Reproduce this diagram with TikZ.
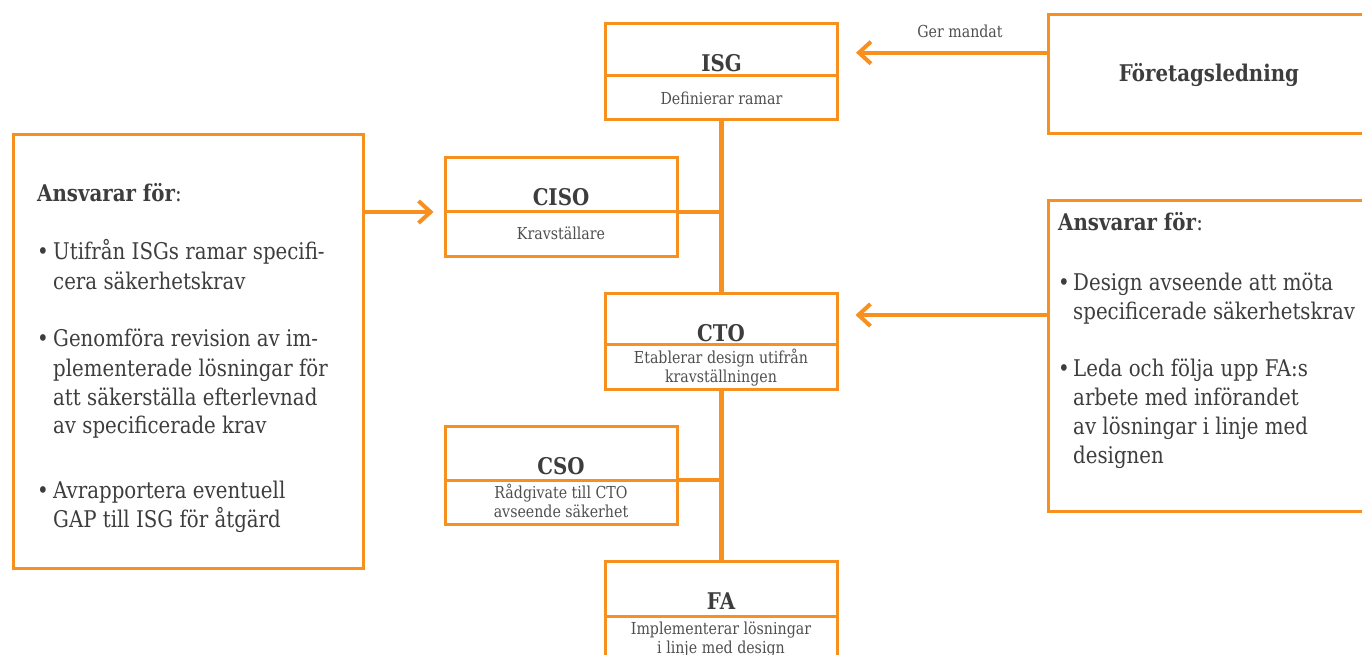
\documentclass[tikz,border=0pt]{standalone}
\usepackage{fontspec}
\setmainfont{DejaVu Serif}[FakeStretch=0.86]
\usetikzlibrary{arrows.meta}
\definecolor{org}{HTML}{F7901E}
\definecolor{txt}{HTML}{3D3D3D}
\definecolor{subtxt}{HTML}{4F4F4F}
\tikzset{
  orgbox/.style={draw=org, line width=3pt, rectangle, inner sep=0pt,
    minimum width=232pt, minimum height=#1},
  bigbox/.style={draw=org, line width=3pt, rectangle, inner sep=0pt},
  divider/.style={draw=org, line width=3pt},
  title/.style={font=\fontsize{23}{27}\selectfont\bfseries, text=txt, inner sep=0pt, anchor=base},
  subt/.style={font=\fontsize{16.5}{19}\selectfont, text=subtxt, inner sep=0pt, anchor=base},
  body/.style={font=\fontsize{23}{29}\selectfont, text=txt, inner sep=0pt, anchor=base west},
  conn/.style={draw=org, line width=4.5pt},
  arr/.style={draw=org, line width=4pt, -{Straight Barb[length=12pt,width=22pt]}}
}
\begin{document}
\begin{tikzpicture}[x=1pt,y=-1pt]
\useasboundingbox (0,0) rectangle (1362,655);
\clip (0,0) rectangle (1362,655);

% org boxes
\node[orgbox=96pt] (isg) at (721.5,72) {};
\node[orgbox=98pt] (ciso) at (561,207) {};
\node[orgbox=96pt] (cto) at (721,341) {};
\node[orgbox=98pt] (cso) at (561,475) {};
\node[orgbox=99pt] (fa) at (721,610.5) {};

% dividers
\draw[divider] (isg.west |- 0,76) -- (isg.east |- 0,76);
\draw[divider] (ciso.west |- 0,212) -- (ciso.east |- 0,212);
\draw[divider] (cto.west |- 0,344) -- (cto.east |- 0,344);
\draw[divider] (cso.west |- 0,480) -- (cso.east |- 0,480);
\draw[divider] (fa.west |- 0,616) -- (fa.east |- 0,616);

% titles and subtitles
\node[title] (isgT) at (721.5,72) {ISG};
\node[subt] (isgS) at (721.5,105) {Definierar ramar};
\node[title] (cisoT) at (561,206) {CISO};
\node[subt] (cisoS) at (561,240) {Kravställare};
\node[title] (ctoT) at (721,341) {CTO};
\node[subt] (ctoS) at (721,363) {\begin{tabular}[t]{@{}c@{}}Etablerar design utifrån\\kravställningen\end{tabular}};
\node[title] (csoT) at (561,474) {CSO};
\node[subt] (csoS) at (561,498) {\begin{tabular}[t]{@{}c@{}}Rådgivate till CTO\\avseende säkerhet\end{tabular}};
\node[title] (faT) at (721,609) {FA};
\node[subt] (faS) at (721,634) {\begin{tabular}[t]{@{}c@{}}Implementerar lösningar\\i linje med design\end{tabular}};

% management box
\node[bigbox, minimum width=322pt, minimum height=119pt,
      font=\fontsize{23}{27}\selectfont\bfseries, text=txt] (ftl) at (1209,74.5) {Företagsledning};

% left and right responsibility boxes
\node[bigbox, minimum width=350pt, minimum height=433pt] (lbox) at (188,351.5) {};
\node[bigbox, minimum width=322pt, minimum height=311pt] (rbox) at (1209,356.2) {};

\node[body] (ltext) at (37,202) {\begin{tabular}[t]{@{}p{16pt}@{}l@{}}
\multicolumn{2}{@{}l@{}}{\textbf{Ansvarar för}:}\\[29pt]
\textbullet & Utifrån ISGs ramar specifi-\\
 & cera säkerhetskrav\\[29pt]
\textbullet & Genomföra revision av im-\\
 & plementerade lösningar för\\
 & att säkerställa efterlevnad\\
 & av specificerade krav\\[35pt]
\textbullet & Avrapportera eventuell\\
 & GAP till ISG för åtgärd
\end{tabular}};

\node[body] (rtext) at (1058,230) {\begin{tabular}[t]{@{}p{15pt}@{}l@{}}
\multicolumn{2}{@{}l@{}}{\textbf{Ansvarar för}:}\\[31pt]
\textbullet & Design avseende att möta\\
 & specificerade säkerhetskrav\\[28pt]
\textbullet & Leda och följa upp FA:s\\
 & arbete med införandet\\
 & av lösningar i linje med\\
 & designen
\end{tabular}};

% spine connectors
\coordinate (jciso) at (721.5,212);
\coordinate (jcso) at (721.5,480);
\draw[conn] (isg.south) -- (cto.north -| isg.south);
\draw[conn] (cto.south -| isg.south) -- (fa.north -| isg.south);
\draw[conn] (ciso.east |- jciso) -- (jciso);
\draw[conn] (cso.east |- jcso) -- (jcso);

% arrows
\draw[arr, shorten >=10pt] (lbox.east |- 0,212) -- (ciso.west |- 0,212);
\draw[arr, shorten >=17pt] (ftl.west |- 0,52.7) -- (isg.east |- 0,52.7);
\node[font=\fontsize{16.5}{19}\selectfont, text=subtxt, inner sep=0pt, anchor=base] (gm) at (960,38) {Ger mandat};
\draw[arr, shorten >=17pt] (rbox.west |- 0,315) -- (cto.east |- 0,315);
\end{tikzpicture}
\end{document}
